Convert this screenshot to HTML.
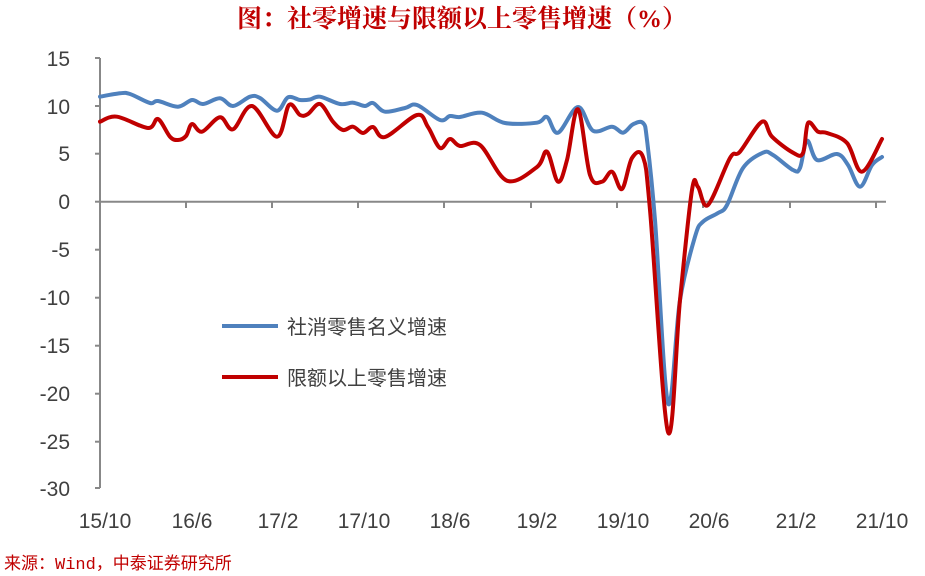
<!DOCTYPE html>
<html><head><meta charset="utf-8"><style>
body{margin:0;background:#fff;width:925px;height:576px;overflow:hidden}
</style></head><body>
<svg width="925" height="576" xmlns="http://www.w3.org/2000/svg" style="position:absolute;left:0;top:0">
<text x="462" y="27" text-anchor="middle" font-family="'Liberation Serif','Noto Serif CJK SC',serif" font-weight="bold" font-size="25" fill="#c00000">图：社零增速与限额以上零售增速（%）</text>
<g stroke="#888" stroke-width="2" fill="none">
<line x1="100" y1="58" x2="100" y2="488"/>
<line x1="95" y1="58" x2="100" y2="58"/><line x1="95" y1="106" x2="100" y2="106"/><line x1="95" y1="153.7" x2="100" y2="153.7"/><line x1="95" y1="201.7" x2="100" y2="201.7"/><line x1="95" y1="249.7" x2="100" y2="249.7"/><line x1="95" y1="297.7" x2="100" y2="297.7"/><line x1="95" y1="345.7" x2="100" y2="345.7"/><line x1="95" y1="393.7" x2="100" y2="393.7"/><line x1="95" y1="441.7" x2="100" y2="441.7"/><line x1="95" y1="488" x2="100" y2="488"/>
<line x1="100" y1="201.7" x2="886" y2="201.7"/>
<line x1="100" y1="201.7" x2="100" y2="208"/><line x1="186" y1="201.7" x2="186" y2="208"/><line x1="272" y1="201.7" x2="272" y2="208"/><line x1="358" y1="201.7" x2="358" y2="208"/><line x1="444" y1="201.7" x2="444" y2="208"/><line x1="531" y1="201.7" x2="531" y2="208"/><line x1="617" y1="201.7" x2="617" y2="208"/><line x1="703" y1="201.7" x2="703" y2="208"/><line x1="790" y1="201.7" x2="790" y2="208"/><line x1="876" y1="201.7" x2="876" y2="208"/>
</g>
<g font-family="'Liberation Sans',sans-serif" font-size="21" fill="#404040" text-anchor="end">
<text x="70" y="66">15</text><text x="70" y="114">10</text><text x="70" y="161">5</text><text x="70" y="209">0</text><text x="70" y="257">-5</text><text x="70" y="305">-10</text><text x="70" y="353">-15</text><text x="70" y="401">-20</text><text x="70" y="449">-25</text><text x="70" y="496">-30</text>
</g>
<g font-family="'Liberation Sans',sans-serif" font-size="21" fill="#404040" text-anchor="middle">
<text x="105" y="528">15/10</text><text x="192" y="528">16/6</text><text x="278" y="528">17/2</text><text x="364" y="528">17/10</text><text x="450" y="528">18/6</text><text x="537" y="528">19/2</text><text x="623" y="528">19/10</text><text x="709" y="528">20/6</text><text x="796" y="528">21/2</text><text x="882" y="528">21/10</text>
</g>
<path id="pb" fill="none" stroke="#4f81bd" stroke-width="4" stroke-linejoin="round" stroke-linecap="round" data-p="100,96.7 120,93.3 130,94 150,103 158,101 178,106.7 192,100 203,104 220,98.3 233,106 250,96.7 260,98 277,110.7 288,97.3 300,100 310,99.5 320,96.7 340,104 353,102.7 365,106 373,103 385,111.7 405,108 417,105 440,120 450,116 460,117 482,112.7 505,123 537,122.7 547,117 558,132.7 578,107 593,130.7 612,126.7 623,132.7 633,124.3 643,123 647,140 655,220 668,403 680,300 695,236.7 703,221.7 718,213 727,205 743,168 763,152.7 773,155 793,170 800,168 807,140.7 817,160 837,154 848,165 860,186.7 872,165 882,157"/>
<path id="pr" fill="none" stroke="#c00000" stroke-width="4" stroke-linejoin="round" stroke-linecap="round" data-p="100,121.7 117,116.7 148,128 158,119 170,136.7 178,140 186,136 192,124 202,131.7 220,117.3 233,129.3 252,106 277,136.7 289,105 300,115 308,114 320,104 333,121.7 343,130 353,126.7 363,133 373,127 385,137 417,115 428,127 440,148 450,139 460,146 480,145 507,180.7 537,167 547,151.7 558,181.7 567,160 578,109.3 590,175 602,181.7 612,171.7 622,189 632,158 643,157 650,210 668,432 680,300 692,190 698,187 708,205 730,158 740,151.7 762,121.7 772,136.7 793,152.7 803,153 808,123 818,131.7 827,133 847,143 862,171.7 882,139"/>
<line x1="222" y1="326" x2="278" y2="326" stroke="#4f81bd" stroke-width="4"/>
<text x="287" y="334" font-family="'Liberation Sans','Noto Sans CJK SC',sans-serif" font-size="20" fill="#404040">社消零售名义增速</text>
<line x1="222" y1="377" x2="278" y2="377" stroke="#c00000" stroke-width="4"/>
<text x="287" y="385" font-family="'Liberation Sans','Noto Sans CJK SC',sans-serif" font-size="20" fill="#404040">限额以上零售增速</text>
<text x="4" y="569" font-family="'Liberation Mono','Noto Sans CJK SC',monospace" font-size="17" fill="#c00000">来源：Wind，中泰证券研究所</text>
</svg>
<script>
['pb','pr'].forEach(function(id){
var el=document.getElementById(id);
var p=el.getAttribute('data-p').trim().split(/\s+/).map(function(s){return s.split(',').map(Number);});
var d='M'+p[0][0]+','+p[0][1];
for(var i=0;i<p.length-1;i++){
var p0=p[i-1]||p[i],p1=p[i],p2=p[i+1],p3=p[i+2]||p2,t=0.17;
var c1=[p1[0]+(p2[0]-p0[0])*t,p1[1]+(p2[1]-p0[1])*t];
var c2=[p2[0]-(p3[0]-p1[0])*t,p2[1]-(p3[1]-p1[1])*t];
d+=' C'+c1[0].toFixed(1)+','+c1[1].toFixed(1)+' '+c2[0].toFixed(1)+','+c2[1].toFixed(1)+' '+p2[0]+','+p2[1];
}
el.setAttribute('d',d);
});
</script>
</body></html>
